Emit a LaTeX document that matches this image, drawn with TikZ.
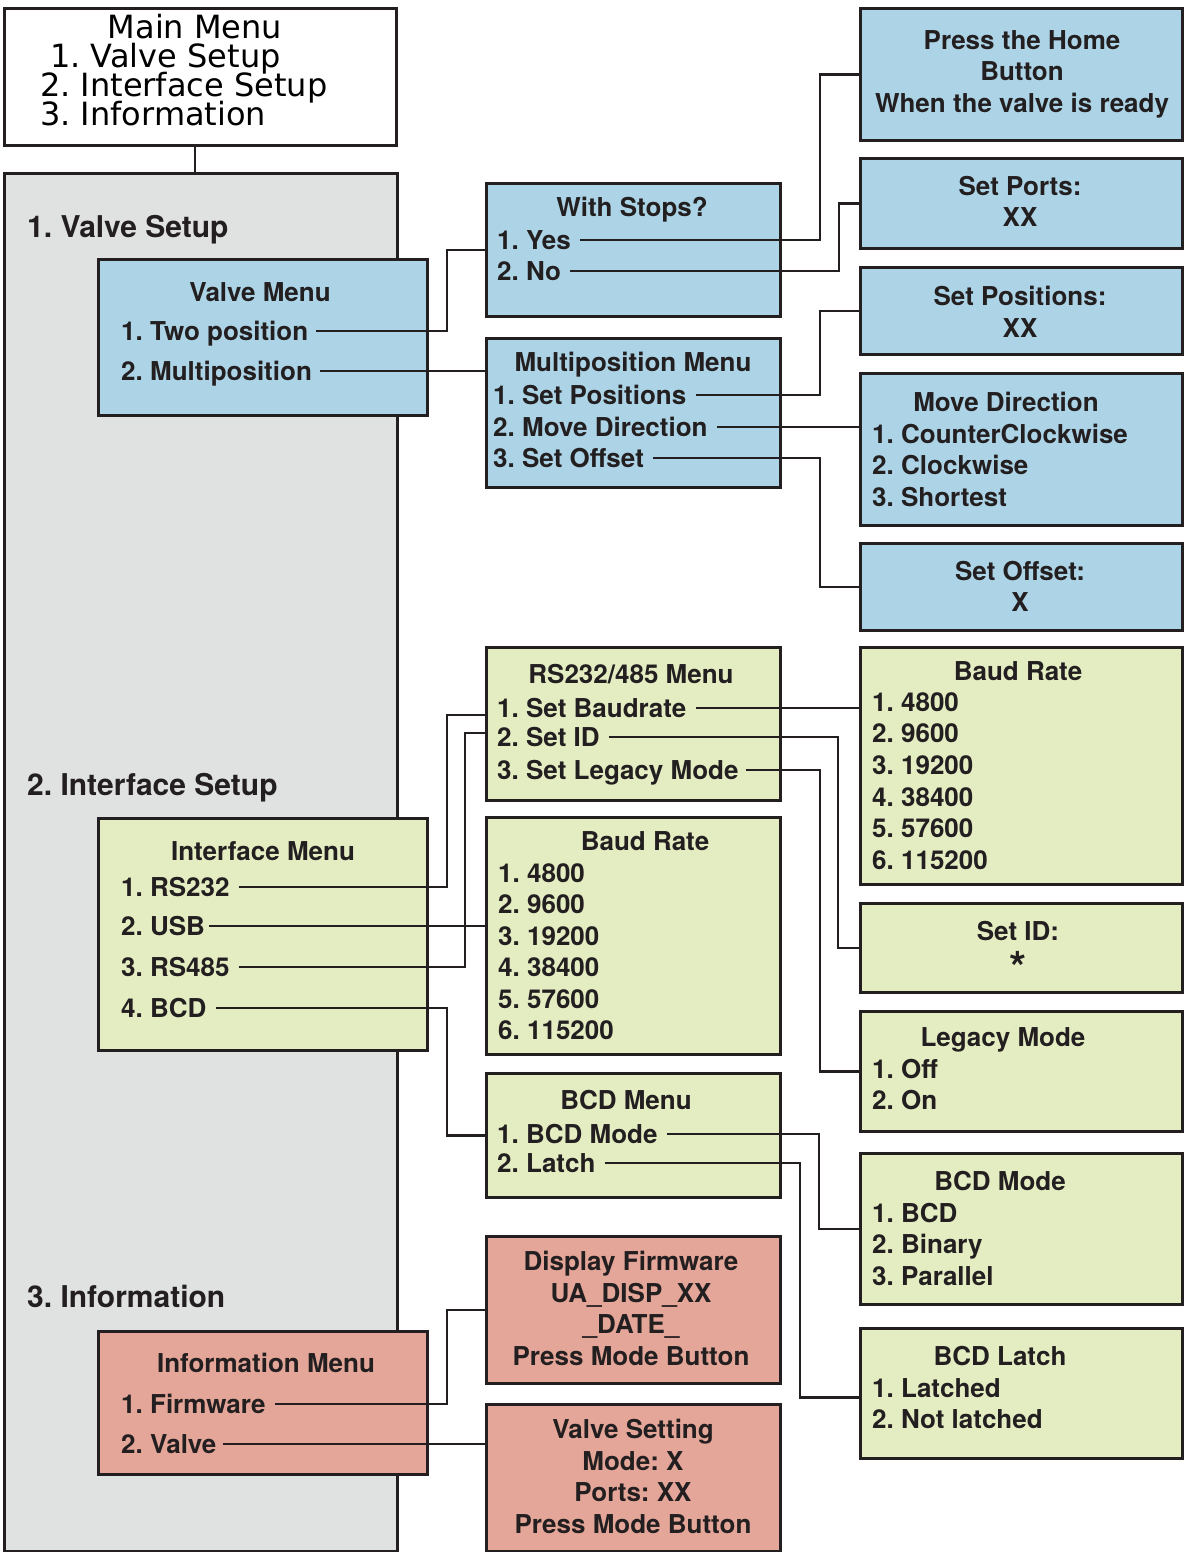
\documentclass[tikz,border=0pt]{standalone}
\usepackage{fontspec}
\setmainfont{TeX Gyre Heros}
\newfontfamily\lcdfont{DejaVu Sans}
\frenchspacing
\definecolor{ink}{HTML}{231F20}
\definecolor{panel}{HTML}{E0E2E1}
\definecolor{valveblue}{HTML}{ACD4E6}
\definecolor{ifgreen}{HTML}{E4EDC2}
\definecolor{infored}{HTML}{E4A698}
\begin{document}
\begin{tikzpicture}[x=1pt,y=-1pt,
    box/.style={draw=ink,line width=3pt,anchor=north west,inner sep=0pt},
    bluebox/.style={box,fill=valveblue},
    greenbox/.style={box,fill=ifgreen},
    redbox/.style={box,fill=infored},
    txt/.style={inner sep=0pt,text height=18.7pt,text depth=0pt,text=ink,font=\bfseries\fontsize{26}{31.5}\selectfont},
    item/.style={txt,anchor=west},
    lines/.style={inner sep=0pt,anchor=north,align=center,text=ink,font=\bfseries\fontsize{26}{31.5}\selectfont},
    section/.style={inner sep=0pt,anchor=west,text height=21.6pt,text depth=0pt,text=ink,font=\bfseries\fontsize{30}{36}\selectfont},
    lcd/.style={inner sep=0pt,text height=23.3pt,text depth=0pt,text=black,font=\lcdfont\fontsize{32}{36}\selectfont},
    link/.style={draw=ink,line width=2.8pt}]
    \useasboundingbox (0,0) rectangle (1183,1552);

    \node[box,fill=white,minimum width=392,minimum height=137] (mm) at (3,7) {};
    \node[lcd] (mmT) at (195,27) {Main Menu};
    \node[lcd,anchor=west] (mm1) at (50,56) {1. Valve Setup};
    \node[lcd,anchor=west] (mm2) at (40,85) {2. Interface Setup};
    \node[lcd,anchor=west] (mm3) at (40,114) {3. Information};

    \node[box,fill=panel,minimum width=393,minimum height=1378] (pan) at (3,172) {};
    \node[section] (sec1) at (27,227) {1. Valve Setup};
    \node[section] (sec2) at (27,785) {2. Interface Setup};
    \node[section] (sec3) at (27,1297) {3. Information};

    \node[bluebox,minimum width=329,minimum height=156] (vm) at (97,258) {};
    \node[txt] (vmT) at (260,292) {Valve Menu};
    \node[item] (vm1) at (121,331) {1. Two position};
    \node[item] (vm2) at (121,371) {2. Multiposition};

    \node[greenbox,minimum width=329,minimum height=232] (im) at (97,817) {};
    \node[txt] (imT) at (263,851) {Interface Menu};
    \node[item] (im1) at (121,887) {1. RS232};
    \node[item] (im2) at (121,926) {2. USB};
    \node[item] (im3) at (121,967) {3. RS485};
    \node[item] (im4) at (121,1008) {4. BCD};

    \node[redbox,minimum width=329,minimum height=143] (inf) at (97,1330) {};
    \node[txt] (infT) at (266,1363) {Information Menu};
    \node[item] (inf1) at (121,1404) {1. Firmware};
    \node[item] (inf2) at (121,1444) {2. Valve};

    \node[bluebox,minimum width=294,minimum height=133] (ws) at (485,182) {};
    \node[txt] (wsT) at (632,207) {With Stops?};
    \node[item] (ws1) at (497,240) {1. Yes};
    \node[item] (ws2) at (497,271) {2. No};

    \node[bluebox,minimum width=294,minimum height=149] (mp) at (485,337) {};
    \node[txt] (mpT) at (633,362) {Multiposition Menu};
    \node[item] (mp1) at (493,395) {1. Set Positions};
    \node[item] (mp2) at (493,427) {2. Move Direction};
    \node[item] (mp3) at (493,458) {3. Set Offset};

    \node[greenbox,minimum width=294,minimum height=153] (rs) at (485,646) {};
    \node[txt] (rsT) at (631,674) {RS232/485 Menu};
    \node[item] (rs1) at (497,708) {1. Set Baudrate};
    \node[item] (rs2) at (497,737) {2. Set ID};
    \node[item] (rs3) at (497,770) {3. Set Legacy Mode};

    \node[greenbox,minimum width=294,minimum height=237] (bm) at (485,816) {};
    \node[txt] (bmT) at (645,841) {Baud Rate};
    \node[item] (bm1) at (498,873) {1. 4800};
    \node[item] (bm2) at (498,904) {2. 9600};
    \node[item] (bm3) at (498,936) {3. 19200};
    \node[item] (bm4) at (498,967) {4. 38400};
    \node[item] (bm5) at (498,999) {5. 57600};
    \node[item] (bm6) at (498,1030) {6. 115200};

    \node[greenbox,minimum width=294,minimum height=124] (bcd) at (485,1072) {};
    \node[txt] (bcdT) at (626,1100) {BCD Menu};
    \node[item] (bcd1) at (497,1134) {1. BCD Mode};
    \node[item] (bcd2) at (497,1163) {2. Latch};

    \node[redbox,minimum width=294,minimum height=147] (df) at (485,1235) {};
    \node[lines] (dfT) at (631,1251) {Display Firmware\\UA\_DISP\_XX\\\_DATE\_\\Press Mode Button};

    \node[redbox,minimum width=294,minimum height=147] (vs) at (485,1403) {};
    \node[lines] (vsT) at (633,1419) {Valve Setting\\Mode: X\\Ports: XX\\Press Mode Button};

    \node[bluebox,minimum width=322,minimum height=132] (ph) at (859,7) {};
    \node[lines] (phT) at (1022,30) {Press the Home\\Button\\When the valve is ready};

    \node[bluebox,minimum width=322,minimum height=90] (sp) at (859,157) {};
    \node[lines] (spT) at (1020,176) {Set Ports:\\XX};

    \node[bluebox,minimum width=322,minimum height=87] (spos) at (859,266) {};
    \node[lines] (sposT) at (1020,286) {Set Positions:\\XX};

    \node[bluebox,minimum width=322,minimum height=152] (md) at (859,372) {};
    \node[txt] (mdT) at (1006,402) {Move Direction};
    \node[item] (md1) at (872,434) {1. CounterClockwise};
    \node[item] (md2) at (872,465) {2. Clockwise};
    \node[item] (md3) at (872,497) {3. Shortest};

    \node[bluebox,minimum width=322,minimum height=87] (so) at (859,542) {};
    \node[lines] (soT) at (1020,561) {Set Offset:\\X};

    \node[greenbox,minimum width=322,minimum height=237] (br) at (859,646) {};
    \node[txt] (brT) at (1018,671) {Baud Rate};
    \node[item] (br1) at (872,702) {1. 4800};
    \node[item] (br2) at (872,733) {2. 9600};
    \node[item] (br3) at (872,765) {3. 19200};
    \node[item] (br4) at (872,797) {4. 38400};
    \node[item] (br5) at (872,828) {5. 57600};
    \node[item] (br6) at (872,860) {6. 115200};

    \node[greenbox,minimum width=322,minimum height=89] (sid) at (859,902) {};
    \node[lines] (sidT) at (1018,921) {Set ID:\\\raisebox{-12pt}{\fontsize{44}{31.5}\selectfont *}};

    \node[greenbox,minimum width=322,minimum height=120] (lm) at (859,1010) {};
    \node[txt] (lmT) at (1003,1037) {Legacy Mode};
    \node[item] (lm1) at (872,1069) {1. Off};
    \node[item] (lm2) at (872,1100) {2. On};

    \node[greenbox,minimum width=322,minimum height=151] (bmode) at (859,1152) {};
    \node[txt] (bmodeT) at (1000,1181) {BCD Mode};
    \node[item] (bmode1) at (872,1213) {1. BCD};
    \node[item] (bmode2) at (872,1244) {2. Binary};
    \node[item] (bmode3) at (872,1276) {3. Parallel};

    \node[greenbox,minimum width=322,minimum height=130] (bl) at (859,1327) {};
    \node[txt] (blT) at (1000,1356) {BCD Latch};
    \node[item] (bl1) at (872,1388) {1. Latched};
    \node[item] (bl2) at (872,1419) {2. Not latched};

    \draw[link] (mmT |- mm.south) -- (mmT |- pan.north);
    \draw[link] ([xshift=8]vm1.east) -- (447,0 |- vm1.east) |- (ws.west);
    \draw[link] ([xshift=8]vm2.east) -- (vm2.east -| mp.west);
    \draw[link] ([xshift=9]ws1.east) -- (820,0 |- ws1.east) |- (ph.west);
    \draw[link] ([xshift=9]ws2.east) -- (839,0 |- ws2.east) |- (sp.west);
    \draw[link] ([xshift=9]mp1.east) -- (820,0 |- mp1.east) |- (spos.west);
    \draw[link] ([xshift=9]mp2.east) -- (mp2.east -| md.west);
    \draw[link] ([xshift=9]mp3.east) -- (820,0 |- mp3.east) |- (so.west);
    \draw[link] ([xshift=9]rs1.east) -- (rs1.east -| br.west);
    \draw[link] ([xshift=9]rs2.east) -- (838,0 |- rs2.east) |- (sid.west);
    \draw[link] ([xshift=7]rs3.east) -- (820,0 |- rs3.east) |- (lm.west);
    \draw[link] ([xshift=9]im1.east) -- (447,0 |- im1.east) |- ([yshift=9]rs.west);
    \draw[link] ([xshift=4]im2.east) -- (im2.east -| bm.west);
    \draw[link] ([xshift=9]im3.east) -- (465,0 |- im3.east) |- ([yshift=-9]rs.west);
    \draw[link] ([xshift=9]im4.east) -- (447,0 |- im4.east) |- (bcd.west);
    \draw[link] ([xshift=9]bcd1.east) -- (819,0 |- bcd1.east) |- (bmode.west);
    \draw[link] ([xshift=9]bcd2.east) -- (800,0 |- bcd2.east) |- ([yshift=-4]bl.west);
    \draw[link] ([xshift=9]inf1.east) -- (447,0 |- inf1.east) |- (df.west);
    \draw[link] ([xshift=6]inf2.east) -- (inf2.east -| vs.west);
\end{tikzpicture}
\end{document}
